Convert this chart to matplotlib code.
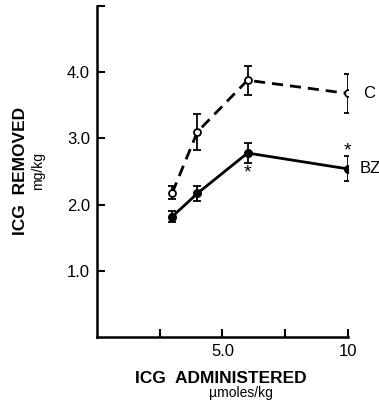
import matplotlib.pyplot as plt

plt.rcParams['font.family'] = ['Liberation Sans', 'DejaVu Sans']

# ICG administered (umoles/kg)
dose = [3, 4, 6, 10]

# Control group (C)
c_mean = [2.18, 3.10, 3.88, 3.68]
c_err = [0.10, 0.27, 0.22, 0.29]

# BZ group
bz_mean = [1.82, 2.17, 2.78, 2.54]
bz_err = [0.08, 0.11, 0.15, 0.19]

x_ticks = [2.5, 5.0, 7.5, 10]
x_labels = ['', '5.0', '', '10']
y_ticks = [1, 2, 3, 4, 5]
y_labels = ['1.0', '2.0', '3.0', '4.0', '']

fig = plt.figure(figsize=(3.79, 4.08), dpi=100)
ax = fig.add_axes([0.256, 0.174, 0.662, 0.811])

ax.errorbar(dose, c_mean, yerr=c_err, color='black', linestyle='--', dashes=(4, 2.5),
            linewidth=2, marker='o', markersize=5, markerfacecolor='white',
            markeredgewidth=1.3, capsize=3, elinewidth=1.3, capthick=1.3)
ax.errorbar(dose, bz_mean, yerr=bz_err, color='black', linestyle='-',
            linewidth=2, marker='o', markersize=5.5, markerfacecolor='black',
            capsize=3, elinewidth=1.3, capthick=1.3)

# significance marks
ax.text(6, bz_mean[2] - bz_err[2] - 0.02, '*', ha='center', va='top', fontsize=14)
ax.text(10, bz_mean[3] + bz_err[3] - 0.05, '*', ha='center', va='bottom', fontsize=14)

# series labels
ax.text(10.6, c_mean[3], 'C', ha='left', va='center', fontsize=12)
ax.text(10.45, bz_mean[3], 'BZ', ha='left', va='center', fontsize=12)

ax.set_xlim(0, 10)
ax.set_ylim(0, 5)
ax.set_xticks(x_ticks)
ax.set_xticklabels(x_labels)
ax.set_yticks(y_ticks)
ax.set_yticklabels(y_labels)
ax.tick_params(direction='in', length=6, width=1.5, labelsize=12, pad=5)

for side in ['top', 'right']:
    ax.spines[side].set_visible(False)
for side in ['left', 'bottom']:
    ax.spines[side].set_linewidth(1.8)

fig.text(0.053, 0.58, 'ICG  REMOVED', rotation=90, ha='center', va='center',
         fontsize=12.5, fontweight='bold')
fig.text(0.1, 0.58, 'mg/kg', rotation=90, ha='center', va='center', fontsize=10)
fig.text(0.583, 0.073, 'ICG  ADMINISTERED', ha='center', va='center',
         fontsize=12.5, fontweight='bold')
fig.text(0.636, 0.036, 'µmoles/kg', ha='center', va='center', fontsize=10)

fig.savefig('out.png', dpi=100)
